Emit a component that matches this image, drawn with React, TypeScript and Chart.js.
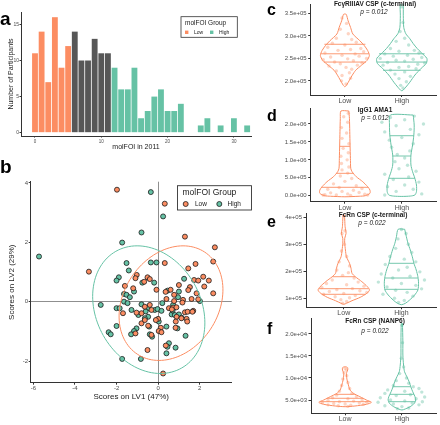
import React, { useEffect, useRef } from "react";
import { Chart, registerables } from "chart.js";

Chart.register(...registerables);

const FONT = '"Liberation Sans", Arial, Helvetica, sans-serif';
const ORANGE = "#FC8D62";
const TEAL = "#66C2A5";
const MID = "#575757";
const AXIS = "#333333";
const TICK = "#4D4D4D";
const INK = "#1A1A1A";
const ORANGE_PT = "rgba(252,141,98,0.38)";
const TEAL_PT = "rgba(102,194,165,0.42)";

// ---------- panel a : histogram ----------
const histBins = [0, 1, 2, 3, 4, 5, 6, 7, 8, 9, 10, 11, 12, 13, 14, 15, 16, 17, 18, 19, 20, 21, 22, 25, 26, 28, 30, 32];
const histCounts = [11, 14, 7, 16, 9, 12, 14, 10, 10, 13, 11, 11, 9, 6, 6, 9, 2, 3, 5, 6, 3, 3, 4, 1, 2, 1, 2, 1];
const histGroup = [
  "Low", "Low", "Low", "Low", "Low", "Low",
  "Mid", "Mid", "Mid", "Mid", "Mid", "Mid",
  "High", "High", "High", "High", "High", "High", "High", "High", "High", "High", "High",
  "High", "High", "High", "High", "High",
];
const groupColor: Record<string, string> = { Low: ORANGE, Mid: MID, High: TEAL };
const histXTicks = [0, 10, 20, 30];
const histYTicks = [0, 5, 10, 15];

// ---------- panel b : scores ----------
const lowScores = [
  [-1.98, 3.77], [0.32, 3.3], [1.29, 2.19], [2.73, 1.83], [2.65, 1.35], [-3.33, 1.01], [0.32, 1.3], [1.8, 1.27],
  [1.45, 1.12], [-1.03, 0.9], [-1.09, 0.79], [-0.51, 0.82], [-0.4, 0.76], [-0.67, 0.67], [-1.6, 0.53], [0.36, 0.33],
  [2.17, 0.84], [1.73, 0.73], [1.93, 0.71], [2.44, 0.71], [1.0, 0.56], [2.22, 0.51], [1.53, 0.49], [1.45, 0.39],
  [0.77, 0.23], [1.85, 0.28], [2.65, 0.28], [0.4, 0.09], [0.77, 0.02], [1.2, 0.06], [1.61, 0.09], [1.17, -0.03],
  [0.52, -0.22], [0.72, -0.2], [1.29, -0.36], [1.42, -0.34], [1.69, -0.31], [0.89, -0.51], [1.37, -0.58], [0.0, -0.58],
  [0.13, -0.88], [0.03, -0.99], [0.16, -1.03], [0.84, -0.88], [0.24, -2.42], [-1.69, -0.39], [-0.64, -0.17], [-0.32, -0.28],
  [-0.4, -0.11], [-0.8, -0.39], [-0.8, -0.73], [-0.48, -0.81], [-1.09, -1.07], [-0.51, -1.63], [0.88, -0.19], [1.12, -0.56],
  [1.4, -0.67], [0.85, -0.67], [0.66, -0.26], [1.93, 0.08], [-0.08, 0.4], [-1.04, -0.37], [-0.11, -0.62], [-0.32, -1.12],
  [0.37, -1.48], [0.6, 0.4], [1.65, -0.34], [-1.2, 0.45], [-0.64, -0.62],
];
const highScores = [
  [-0.35, 3.69], [0.24, 2.87], [-0.8, 2.33], [-1.73, 1.99], [-5.73, 1.52], [-1.52, 1.3], [-0.35, 1.32], [-0.08, 1.32],
  [-1.41, 1.05], [-1.89, 0.82], [-2.0, 0.71], [-0.19, 0.64], [-1.16, 0.34], [-1.64, 0.26], [-1.52, 0.23], [-1.36, 0.15],
  [1.25, 0.77], [0.45, 0.37], [1.0, 0.34], [-2.76, -0.11], [-1.64, 0.0], [-1.47, -0.05], [-2.0, -0.22], [-1.85, -0.22],
  [-1.28, -0.28], [-0.8, -0.09], [-0.48, -0.22], [-0.16, -0.28], [-0.48, -0.51], [-0.64, -0.56], [-0.43, -0.84], [-1.04, -0.9],
  [-1.16, -0.99], [-0.4, -1.1], [-0.29, -1.18], [-2.0, -0.82], [-2.38, -1.03], [-2.28, -1.1], [-1.73, -1.93], [-0.83, -1.93],
  [2.01, 0.02], [-0.03, -0.25], [0.16, -0.31], [0.65, -0.43], [0.8, -0.45], [1.0, -0.43], [1.13, -0.54], [0.03, -0.67],
  [0.4, -0.84], [0.93, -0.9], [1.32, -1.15], [0.52, -1.4], [0.45, -1.52], [0.84, -1.55], [0.4, -1.74], [-0.76, 0.64],
  [0.72, -0.11], [0.96, 0.15], [0.7, -0.3], [-0.6, -0.33], [-0.95, -0.45], [-1.3, -1.1], [0.2, -0.05],
];
// confidence ellipses: centre + two conjugate semi-axis vectors (data units)
const lowEllipse = { cx: 0.62, cy: -0.05, ax: 2.43, ay: 0, bx: 0.58, by: 1.93 };
const highEllipse = { cx: -0.45, cy: -0.27, ax: 2.64, ay: 0, bx: -0.56, by: 2.15 };
const lvXTicks = [-6, -4, -2, 0, 2];
const lvYTicks = [-2, 0, 2, 4];

// ---------- panels c-f : violins ([value, half-width]) ----------
const groups = ["Low", "High"];

const cTicks = [2.0e5, 2.5e5, 3.0e5, 3.5e5];
const cTickLabels = ["2.0e+05", "2.5e+05", "3.0e+05", "3.5e+05"];
const cLowProfile = [[3.49e5, 0], [3.48e5, 0.025], [3.337e5, 0.057], [3.19e5, 0.1], [3.044e5, 0.14], [2.897e5, 0.26], [2.787e5, 0.34], [2.676e5, 0.4], [2.566e5, 0.43], [2.456e5, 0.39], [2.346e5, 0.29], [2.236e5, 0.19], [2.126e5, 0.13], [2.015e5, 0.08], [1.905e5, 0.03], [1.868e5, 0]];
const cHighProfile = [[3.72e5, 0.026], [3.45e5, 0.026], [3.19e5, 0.034], [3.05e5, 0.07], [2.94e5, 0.14], [2.83e5, 0.2], [2.72e5, 0.27], [2.63e5, 0.34], [2.5e5, 0.44], [2.39e5, 0.43], [2.28e5, 0.34], [2.13e5, 0.23], [1.97e5, 0.14], [1.86e5, 0.07], [1.79e5, 0.02], [1.78e5, 0]];
const cLowQuant = [[2.815e5, 0.36], [2.603e5, 0.42], [2.419e5, 0.37]];
const cHighQuant = [[2.603e5, 0.4], [2.419e5, 0.44], [2.236e5, 0.33]];
const cLowPts = [[-0.05, 3.4e5], [0.03, 3.28e5], [-0.08, 3.15e5], [0.06, 3.05e5], [-0.15, 2.95e5], [0.12, 2.92e5], [0.2, 2.86e5], [-0.22, 2.84e5], [0.0, 2.8e5], [-0.3, 2.75e5], [0.28, 2.72e5], [0.1, 2.7e5], [-0.12, 2.68e5], [0.33, 2.65e5], [-0.35, 2.62e5], [0.18, 2.6e5], [-0.05, 2.57e5], [0.25, 2.55e5], [-0.25, 2.53e5], [0.38, 2.5e5], [0.05, 2.49e5], [-0.38, 2.47e5], [0.15, 2.45e5], [-0.18, 2.42e5], [0.3, 2.4e5], [-0.08, 2.38e5], [0.22, 2.35e5], [-0.28, 2.33e5], [0.02, 2.3e5], [0.12, 2.26e5], [-0.15, 2.22e5], [0.08, 2.18e5], [-0.05, 2.12e5], [0.1, 2.06e5], [-0.06, 2.0e5], [0.02, 1.93e5]];
const cHighPts = [[0.0, 3.65e5], [0.02, 3.3e5], [-0.03, 3.1e5], [0.05, 2.95e5], [-0.1, 2.88e5], [0.12, 2.8e5], [-0.2, 2.72e5], [0.22, 2.68e5], [-0.05, 2.66e5], [0.3, 2.62e5], [-0.3, 2.6e5], [0.1, 2.57e5], [-0.15, 2.55e5], [0.35, 2.52e5], [-0.38, 2.5e5], [0.2, 2.48e5], [-0.1, 2.46e5], [0.05, 2.44e5], [-0.25, 2.41e5], [0.4, 2.4e5], [0.28, 2.37e5], [-0.33, 2.35e5], [0.12, 2.32e5], [-0.05, 2.3e5], [0.25, 2.27e5], [-0.2, 2.24e5], [0.05, 2.2e5], [-0.12, 2.15e5], [0.15, 2.1e5], [-0.05, 2.05e5], [0.08, 1.98e5], [-0.02, 1.9e5], [0.02, 1.84e5]];

const dTicks = [0, 5e5, 1e6, 1.5e6, 2e6];
const dTickLabels = ["0.0e+00", "5.0e+05", "1.0e+06", "1.5e+06", "2.0e+06"];
const dLowProfile = [[2.362e6, 0.069], [2.158e6, 0.08], [1.785e6, 0.086], [1.414e6, 0.091], [1.043e6, 0.097], [7.64e5, 0.103], [6.69e5, 0.126], [5.3e5, 0.2], [3.9e5, 0.314], [2.51e5, 0.4], [1.59e5, 0.44], [6.7e4, 0.44], [0, 0.36], [-1.5e4, 0.25], [-3e4, 0]];
const dHighProfile = [[2.25e6, 0.2], [1.971e6, 0.217], [1.693e6, 0.211], [1.414e6, 0.189], [1.135e6, 0.16], [8.56e5, 0.16], [6.69e5, 0.189], [4.85e5, 0.229], [2.98e5, 0.257], [1.12e5, 0.257], [2e4, 0.229], [-1e4, 0.15], [-2e4, 0]];
const dLowQuant = [[1.377e6, 0.09], [6.24e5, 0.15], [2.34e5, 0.41]];
const dHighQuant = [[1.673e6, 0.21], [1.107e6, 0.16], [4.85e5, 0.229]];
const dLowPts = [[-0.35, 3e4], [-0.25, 8e4], [-0.15, 2e4], [-0.05, 1.2e5], [0.05, 5e4], [0.15, 1.5e5], [0.25, 9e4], [0.35, 4e4], [-0.3, 1.8e5], [0.3, 2.0e5], [-0.1, 2.3e5], [0.1, 1e4], [0.2, 2.8e5], [-0.2, 3.3e5], [0.0, 4.0e5], [0.12, 4.8e5], [-0.08, 5.5e5], [0.05, 6.3e5], [-0.05, 7.2e5], [0.07, 8.0e5], [-0.06, 9.0e5], [0.04, 1.0e6], [-0.07, 1.1e6], [0.06, 1.2e6], [-0.03, 1.32e6], [0.07, 1.45e6], [-0.05, 1.6e6], [0.03, 1.75e6], [-0.06, 1.9e6], [0.05, 2.05e6], [-0.02, 2.2e6], [0.06, 2.3e6], [-0.38, 1.5e4], [0.4, 2e4]];
const dHighPts = [[-0.3, 2e4], [0.35, 5e4], [-0.1, 1.2e5], [0.2, 1.8e5], [-0.25, 2.5e5], [0.05, 3.0e5], [0.3, 3.8e5], [-0.15, 4.5e5], [0.12, 5.2e5], [-0.3, 6.0e5], [0.25, 6.8e5], [-0.05, 7.5e5], [0.1, 8.5e5], [-0.12, 9.5e5], [0.05, 1.05e6], [-0.08, 1.15e6], [0.14, 1.25e6], [-0.18, 1.35e6], [0.2, 1.45e6], [-0.22, 1.55e6], [0.0, 1.62e6], [0.3, 1.7e6], [-0.3, 1.78e6], [0.15, 1.85e6], [-0.1, 1.95e6], [0.38, 2.0e6], [-0.35, 2.05e6], [0.05, 2.12e6], [-0.2, 2.18e6], [0.22, 2.22e6]];

const eTicks = [1e5, 2e5, 3e5, 4e5];
const eTickLabels = ["1e+05", "2e+05", "3e+05", "4e+05"];
const eLowProfile = [[4.1e5, 0], [4.085e5, 0.011], [3.9e5, 0.017], [3.652e5, 0.023], [3.408e5, 0.04], [3.222e5, 0.017], [3.037e5, 0.017], [2.789e5, 0.029], [2.541e5, 0.046], [2.296e5, 0.1], [2.111e5, 0.126], [1.926e5, 0.143], [1.8e5, 0.2], [1.615e5, 0.314], [1.43e5, 0.41], [1.307e5, 0.446], [1.185e5, 0.4], [1.037e5, 0.286], [9.11e4, 0.143], [8.15e4, 0.046], [7.78e4, 0]];
const eHighProfile = [[3.556e5, 0.057], [3.283e5, 0.086], [3.037e5, 0.114], [2.789e5, 0.154], [2.541e5, 0.189], [2.296e5, 0.217], [2.048e5, 0.257], [1.8e5, 0.286], [1.556e5, 0.297], [1.307e5, 0.286], [1.122e5, 0.229], [9.37e4, 0.143], [8.15e4, 0.069], [7.63e4, 0]];
const eLowQuant = [[1.8e5, 0.2], [1.356e5, 0.43], [1.148e5, 0.38]];
const eHighQuant = [[2.296e5, 0.217], [1.752e5, 0.286], [1.333e5, 0.286]];
const eLowPts = [[0.0, 4.05e5], [0.02, 3.5e5], [-0.03, 3.4e5], [0.01, 3.0e5], [-0.04, 2.75e5], [0.05, 2.55e5], [-0.08, 2.35e5], [0.1, 2.2e5], [-0.12, 2.05e5], [0.08, 1.95e5], [-0.02, 1.85e5], [0.18, 1.75e5], [-0.2, 1.68e5], [0.25, 1.6e5], [-0.3, 1.55e5], [0.05, 1.5e5], [0.35, 1.45e5], [-0.38, 1.4e5], [0.15, 1.36e5], [-0.12, 1.32e5], [0.28, 1.28e5], [-0.25, 1.25e5], [0.4, 1.22e5], [0.0, 1.18e5], [-0.35, 1.15e5], [0.2, 1.1e5], [-0.15, 1.06e5], [0.1, 1.02e5], [-0.05, 9.5e4], [0.05, 8.8e4], [-0.02, 8.2e4]];
const eHighPts = [[0.0, 3.55e5], [0.08, 3.4e5], [-0.06, 3.2e5], [0.12, 3.0e5], [-0.1, 2.85e5], [0.18, 2.7e5], [-0.2, 2.55e5], [0.05, 2.45e5], [0.25, 2.35e5], [-0.28, 2.25e5], [0.1, 2.15e5], [-0.05, 2.05e5], [0.32, 1.98e5], [-0.35, 1.9e5], [0.15, 1.82e5], [-0.15, 1.75e5], [0.4, 1.68e5], [-0.4, 1.6e5], [0.0, 1.55e5], [0.25, 1.48e5], [-0.25, 1.42e5], [0.35, 1.35e5], [-0.1, 1.3e5], [0.1, 1.22e5], [-0.32, 1.15e5], [0.2, 1.08e5], [-0.12, 1.0e5], [0.05, 9.2e4], [-0.05, 8.5e4]];

const fTicks = [5e3, 1e4, 1.5e4, 2e4];
const fTickLabels = ["5.0e+03", "1.0e+04", "1.5e+04", "2.0e+04"];
const fLowProfile = [[1.255e4, 0], [1.25e4, 0.025], [1.233e4, 0.046], [1.181e4, 0.046], [1.129e4, 0.029], [1.068e4, 0.023], [9.54e3, 0.035], [8.41e3, 0.058], [7.27e3, 0.087], [6.52e3, 0.145], [5.76e3, 0.26], [5.0e3, 0.376], [4.47e3, 0.463], [4.02e3, 0.376], [3.64e3, 0.174], [3.48e3, 0]];
const fHighProfile = [[2.24e4, 0.01], [1.82e4, 0.017], [1.522e4, 0.017], [1.295e4, 0.029], [1.142e4, 0.046], [1.029e4, 0.087], [9.15e3, 0.127], [8.02e3, 0.156], [6.89e3, 0.19], [5.76e3, 0.23], [5.0e3, 0.243], [4.25e3, 0.22], [3.48e3, 0.145], [2.96e3, 0.058], [2.73e3, 0]];
const fLowQuant = [[6.29e3, 0.17], [5.39e3, 0.32], [4.62e3, 0.44]];
const fHighQuant = [[8.02e3, 0.156], [6.29e3, 0.21], [4.62e3, 0.235]];
const fLowPts = [[0.0, 1.22e4], [0.02, 1.18e4], [-0.02, 1.12e4], [0.03, 1.05e4], [-0.04, 9.8e3], [0.05, 9.0e3], [-0.06, 8.3e3], [0.08, 7.6e3], [-0.1, 7.0e3], [0.12, 6.5e3], [-0.15, 6.1e3], [0.2, 5.8e3], [-0.22, 5.5e3], [0.05, 5.3e3], [0.3, 5.0e3], [-0.3, 4.9e3], [0.15, 4.75e3], [-0.1, 4.6e3], [0.38, 4.5e3], [-0.4, 4.4e3], [0.25, 4.3e3], [-0.2, 4.2e3], [0.0, 4.1e3], [0.32, 4.0e3], [-0.3, 3.9e3], [0.1, 3.8e3], [-0.12, 3.7e3], [0.05, 3.55e3]];
const fHighPts = [[0.0, 2.2e4], [0.01, 1.8e4], [-0.01, 1.45e4], [0.03, 1.25e4], [-0.04, 1.1e4], [0.08, 1.0e4], [-0.1, 9.4e3], [0.12, 8.8e3], [-0.15, 8.3e3], [0.2, 8.0e3], [0.3, 7.6e3], [-0.25, 7.3e3], [0.05, 7.0e3], [0.35, 6.8e3], [-0.3, 6.5e3], [0.15, 6.2e3], [-0.1, 6.0e3], [0.4, 5.7e3], [-0.38, 5.5e3], [0.25, 5.3e3], [-0.2, 5.0e3], [0.05, 4.8e3], [0.36, 4.6e3], [-0.42, 4.5e3], [0.18, 4.3e3], [-0.15, 4.1e3], [0.3, 3.9e3], [-0.3, 3.7e3], [0.0, 3.5e3], [0.12, 3.2e3], [-0.08, 3.0e3]];

// ---------- helpers ----------
type Rect = { left: number; top: number; width: number; height: number };
type Area = { left: number; top: number; right: number; bottom: number };

function frame(r: Rect, a: Area) {
  return {
    padding: { left: 0, bottom: 0, top: a.top - r.top, right: r.left + r.width - a.right },
    yW: a.left - r.left,
    xH: r.top + r.height - a.bottom,
  };
}

function linAxis(o: any) {
  return {
    type: "linear",
    position: o.position,
    min: o.min,
    max: o.max,
    offset: false,
    afterBuildTicks: (s: any) => {
      s.ticks = o.ticks.map((v: number) => ({ value: v }));
    },
    afterFit: (s: any) => {
      if (o.fitW !== undefined) s.width = o.fitW;
      if (o.fitH !== undefined) s.height = o.fitH;
      s.paddingTop = 0;
      s.paddingBottom = 0;
      s.paddingLeft = 0;
      s.paddingRight = 0;
    },
    border: { display: true, color: AXIS, width: 1 },
    grid: {
      display: true,
      drawOnChartArea: !!o.zero,
      drawTicks: true,
      tickLength: o.tickLength ?? 2.5,
      tickWidth: 1,
      tickColor: AXIS,
      lineWidth: 1,
      offset: false,
      color: o.zero ? (c: any) => (c.tick && c.tick.value === 0 ? "#8F8F8F" : "rgba(0,0,0,0)") : AXIS,
    },
    ticks: {
      color: TICK,
      font: { family: FONT, size: o.size },
      padding: o.tickPad ?? 1,
      autoSkip: false,
      maxRotation: 0,
      minRotation: 0,
      callback: (_v: any, i: number) => o.labels[i],
    },
    title: o.title
      ? { display: true, text: o.title.text, color: INK, font: { family: FONT, size: o.title.size }, padding: o.title.pad }
      : { display: false },
  };
}

function txt(ctx: CanvasRenderingContext2D, s: string, x: number, y: number, size: number, o: any = {}) {
  ctx.save();
  ctx.font = `${o.style ?? "normal"} ${o.weight ?? "normal"} ${size}px ${FONT}`;
  ctx.fillStyle = o.color ?? INK;
  ctx.textAlign = o.align ?? "left";
  ctx.textBaseline = o.baseline ?? "middle";
  ctx.fillText(s, x, y);
  ctx.restore();
}

function baseOptions(padding: any) {
  return {
    responsive: false,
    maintainAspectRatio: false,
    animation: false,
    devicePixelRatio: 1,
    events: [],
    layout: { padding },
    plugins: { legend: { display: false }, tooltip: { enabled: false } },
  };
}

function ChartCanvas({ rect, config }: { rect: Rect; config: () => any }) {
  const ref = useRef<HTMLCanvasElement | null>(null);
  useEffect(() => {
    if (!ref.current) return;
    const ch = new Chart(ref.current, config());
    return () => ch.destroy();
  }, []);
  return (
    <canvas
      ref={ref}
      width={rect.width}
      height={rect.height}
      style={{ position: "absolute", left: rect.left, top: rect.top, width: rect.width + "px", height: rect.height + "px" }}
    />
  );
}

// ---------- panel a ----------
const RECT_A: Rect = { left: 0, top: 0, width: 252, height: 156 };
const AREA_A: Area = { left: 21, top: 12, right: 251, bottom: 136 };

function histConfig() {
  const f = frame(RECT_A, AREA_A);
  return {
    type: "bar",
    data: {
      datasets: [
        {
          data: histBins.map((b, i) => ({ x: b, y: histCounts[i] })),
          backgroundColor: histGroup.map((g) => groupColor[g]),
          borderWidth: 0,
          barPercentage: 0.88,
          categoryPercentage: 1,
        },
      ],
    },
    options: {
      ...baseOptions(f.padding),
      scales: {
        x: linAxis({ position: "bottom", min: -2.11, max: 32.58, ticks: histXTicks, labels: histXTicks.map(String), size: 4.5, fitH: f.xH, tickLength: 1.5, tickPad: 1.5, title: { text: "molFOI in 2011", size: 7, pad: { top: 0, bottom: 4.3 } } }),
        y: linAxis({ position: "left", min: -0.46, max: 16.72, ticks: histYTicks, labels: histYTicks.map(String), size: 5, fitW: f.yW, tickLength: 1.5, tickPad: 0.5, title: { text: "Number of Participants", size: 7, pad: { top: 7.3, bottom: 0 } } }),
      },
    },
    plugins: [
      {
        id: "decoA",
        afterDraw(chart: any) {
          const ctx = chart.ctx as CanvasRenderingContext2D;
          txt(ctx, "a", 0, 25, 19, { weight: "bold", baseline: "alphabetic", color: "#000" });
          ctx.save();
          ctx.strokeStyle = "#333";
          ctx.lineWidth = 0.8;
          ctx.strokeRect(181, 16.7, 56.3, 20.6);
          ctx.restore();
          txt(ctx, "molFOI Group", 185, 22.9, 6.5);
          ctx.fillStyle = ORANGE;
          ctx.fillRect(185, 30.6, 3.4, 3.4);
          ctx.fillStyle = TEAL;
          ctx.fillRect(210, 30.6, 3.4, 3.4);
          txt(ctx, "Low", 194, 32.4, 5);
          txt(ctx, "High", 219, 32.4, 5);
        },
      },
    ],
  };
}

// ---------- panel b ----------
const RECT_B: Rect = { left: 0, top: 156, width: 252, height: 269 };
const AREA_B: Area = { left: 30.7, top: 181.7, right: 231.7, bottom: 382.7 };

function scoreConfig() {
  const f = frame(RECT_B, AREA_B);
  const pt = (arr: number[][]) => arr.map(([x, y]) => ({ x, y }));
  return {
    type: "scatter",
    data: {
      datasets: [
        { data: pt(lowScores), backgroundColor: ORANGE, borderColor: "#1A1A1A", borderWidth: 0.8, pointRadius: 2.5 },
        { data: pt(highScores), backgroundColor: TEAL, borderColor: "#1A1A1A", borderWidth: 0.8, pointRadius: 2.5 },
      ],
    },
    options: {
      ...baseOptions(f.padding),
      scales: {
        x: linAxis({ position: "bottom", min: -6.13, max: 3.54, ticks: lvXTicks, labels: lvXTicks.map(String), size: 6, fitH: f.xH, tickLength: 2, tickPad: 0, zero: true, title: { text: "Scores on LV1 (47%)", size: 8, pad: { top: 0, bottom: 23.2 } } }),
        y: linAxis({ position: "left", min: -2.73, max: 4.04, ticks: lvYTicks, labels: lvYTicks.map(String), size: 6, fitW: f.yW, tickLength: 2, tickPad: 0.7, zero: true, title: { text: "Scores on LV2 (29%)", size: 8, pad: { top: 7.2, bottom: 0 } } }),
      },
    },
    plugins: [
      {
        id: "decoB",
        afterDatasetsDraw(chart: any) {
          const ctx = chart.ctx as CanvasRenderingContext2D;
          const xs = chart.scales.x;
          const ys = chart.scales.y;
          const a = chart.chartArea;
          const drawEllipse = (e: any, color: string) => {
            ctx.save();
            ctx.beginPath();
            ctx.rect(a.left, a.top, a.right - a.left, a.bottom - a.top);
            ctx.clip();
            ctx.beginPath();
            const N = 120;
            for (let i = 0; i <= N; i++) {
              const t = (2 * Math.PI * i) / N;
              const x = e.cx + e.ax * Math.cos(t) + e.bx * Math.sin(t);
              const y = e.cy + e.ay * Math.cos(t) + e.by * Math.sin(t);
              const px = xs.getPixelForValue(x);
              const py = ys.getPixelForValue(y);
              if (i === 0) ctx.moveTo(px, py);
              else ctx.lineTo(px, py);
            }
            ctx.strokeStyle = color;
            ctx.lineWidth = 1;
            ctx.stroke();
            ctx.restore();
          };
          drawEllipse(lowEllipse, ORANGE);
          drawEllipse(highEllipse, TEAL);
        },
        afterDraw(chart: any) {
          const ctx = chart.ctx as CanvasRenderingContext2D;
          const oy = RECT_B.top;
          txt(ctx, "b", 0, 173 - oy, 19, { weight: "bold", baseline: "alphabetic", color: "#000" });
          ctx.save();
          ctx.fillStyle = "#fff";
          ctx.fillRect(177.5, 185.7 - oy, 74, 24.3);
          ctx.strokeStyle = "#333";
          ctx.lineWidth = 0.9;
          ctx.strokeRect(177.5, 185.7 - oy, 74, 24.3);
          ctx.restore();
          txt(ctx, "molFOI Group", 182.5, 192.5 - oy, 8.5);
          const dot = (x: number, c: string) => {
            ctx.save();
            ctx.beginPath();
            ctx.arc(x, 204 - oy, 2.5, 0, Math.PI * 2);
            ctx.fillStyle = c;
            ctx.fill();
            ctx.strokeStyle = "#1A1A1A";
            ctx.lineWidth = 0.8;
            ctx.stroke();
            ctx.restore();
          };
          dot(185.7, ORANGE);
          dot(219.3, TEAL);
          txt(ctx, "Low", 195, 204.3 - oy, 6.5);
          txt(ctx, "High", 227.5, 204.3 - oy, 6.5);
        },
      },
    ],
  };
}

// ---------- violins ----------
function outline(profile: number[][], c: number) {
  const right = profile.map(([v, w]) => ({ x: c + w, y: v }));
  const left = profile
    .filter(([, w]) => w > 0)
    .reverse()
    .map(([v, w]) => ({ x: c - w, y: v }));
  return [...right, ...left, right[0]];
}
function quantSegs(q: number[][], c: number) {
  const out: any[] = [];
  q.forEach(([v, w]) => {
    out.push({ x: c - w, y: v }, { x: c + w, y: v }, { x: c, y: null });
  });
  return out;
}

type Violin = {
  rect: Rect;
  area: Area;
  xmin: number;
  ymin: number;
  ymax: number;
  ticks: number[];
  tickLabels: string[];
  low: number[][];
  high: number[][];
  lowQ: number[][];
  highQ: number[][];
  lowPts: number[][];
  highPts: number[][];
  letter: string;
  letterBase: number;
  title: string;
  titleX: number;
  titleY: number;
  p: string;
  pX: number;
  pY: number;
};

const violins: Violin[] = [
  {
    rect: { left: 255, top: 0, width: 185, height: 106 },
    area: { left: 310.7, top: 3, right: 437.7, bottom: 95 },
    xmin: 0.4, ymin: 1.685e5, ymax: 3.712e5, ticks: cTicks, tickLabels: cTickLabels,
    low: cLowProfile, high: cHighProfile, lowQ: cLowQuant, highQ: cHighQuant, lowPts: cLowPts, highPts: cHighPts,
    letter: "c", letterBase: 15, title: "FcγRIIIAV CSP (c-terminal)", titleX: 375, titleY: 4.5, p: "p = 0.012", pX: 374, pY: 12,
  },
  {
    rect: { left: 255, top: 104, width: 185, height: 108 },
    area: { left: 310.7, top: 108, right: 437.7, bottom: 201.7 },
    xmin: 0.4, ymin: -1.673e5, ymax: 2.446e6, ticks: dTicks, tickLabels: dTickLabels,
    low: dLowProfile, high: dHighProfile, lowQ: dLowQuant, highQ: dHighQuant, lowPts: dLowPts, highPts: dHighPts,
    letter: "d", letterBase: 121, title: "IgG1 AMA1", titleX: 375, titleY: 110.5, p: "p = 0.012", pX: 375, pY: 118,
  },
  {
    rect: { left: 255, top: 209, width: 185, height: 109 },
    area: { left: 306, top: 213, right: 437.7, bottom: 307.3 },
    xmin: 0.345, ymin: 6.67e4, ymax: 4.159e5, ticks: eTicks, tickLabels: eTickLabels,
    low: eLowProfile, high: eHighProfile, lowQ: eLowQuant, highQ: eHighQuant, lowPts: eLowPts, highPts: eHighPts,
    letter: "e", letterBase: 226.7, title: "FcRn CSP (c-terminal)", titleX: 373, titleY: 215.5, p: "p = 0.022", pX: 372, pY: 223.5,
  },
  {
    rect: { left: 255, top: 314, width: 185, height: 111 },
    area: { left: 311, top: 318, right: 437.7, bottom: 413.3 },
    xmin: 0.4, ymin: 1.98e3, ymax: 2.363e4, ticks: fTicks, tickLabels: fTickLabels,
    low: fLowProfile, high: fHighProfile, lowQ: fLowQuant, highQ: fHighQuant, lowPts: fLowPts, highPts: fHighPts,
    letter: "f", letterBase: 334.3, title: "FcRn CSP (NANP6)", titleX: 375, titleY: 321, p: "p = 0.022", pX: 375, pY: 331.5,
  },
];

function violinConfig(v: Violin) {
  const f = frame(v.rect, v.area);
  const pts = (arr: number[][], c: number) => arr.map(([dx, y]) => ({ x: c + dx, y }));
  return {
    type: "scatter",
    data: {
      datasets: [
        { data: outline(v.low, 1), showLine: true, borderColor: ORANGE, borderWidth: 1, pointRadius: 0, tension: 0.25, fill: false, order: 0 },
        { data: outline(v.high, 2), showLine: true, borderColor: TEAL, borderWidth: 1, pointRadius: 0, tension: 0.25, fill: false, order: 0 },
        { data: quantSegs(v.lowQ, 1), showLine: true, spanGaps: false, borderColor: ORANGE, borderWidth: 0.9, pointRadius: 0, tension: 0, order: 0 },
        { data: quantSegs(v.highQ, 2), showLine: true, spanGaps: false, borderColor: TEAL, borderWidth: 0.9, pointRadius: 0, tension: 0, order: 0 },
        { data: pts(v.lowPts, 1), pointRadius: 1.7, backgroundColor: ORANGE_PT, borderWidth: 0, order: 1 },
        { data: pts(v.highPts, 2), pointRadius: 1.7, backgroundColor: TEAL_PT, borderWidth: 0, order: 1 },
      ],
    },
    options: {
      ...baseOptions(f.padding),
      scales: {
        x: linAxis({ position: "bottom", min: v.xmin, max: 2.6, ticks: [1, 2], labels: groups, size: 7, fitH: f.xH, tickLength: 2, tickPad: 0 }),
        y: linAxis({ position: "left", min: v.ymin, max: v.ymax, ticks: v.ticks, labels: v.tickLabels, size: 6, fitW: f.yW, tickLength: 2.5, tickPad: 1.5 }),
      },
    },
    plugins: [
      {
        id: "decoV",
        afterDraw(chart: any) {
          const ctx = chart.ctx as CanvasRenderingContext2D;
          const ox = v.rect.left;
          const oy = v.rect.top;
          txt(ctx, v.letter, 267 - ox, v.letterBase - oy, 16, { weight: "bold", baseline: "alphabetic", color: "#000" });
          txt(ctx, v.title, v.titleX - ox, v.titleY - oy, 6.5, { weight: "bold", align: "center" });
          txt(ctx, v.p, v.pX - ox, v.pY - oy, 6.5, { style: "italic", align: "center" });
        },
      },
    ],
  };
}

export default function App() {
  return (
    <div style={{ position: "fixed", left: 0, top: 0, width: 440, height: 425, background: "#fff", overflow: "hidden" }}>
      <ChartCanvas rect={RECT_A} config={histConfig} />
      <ChartCanvas rect={RECT_B} config={scoreConfig} />
      {violins.map((v, i) => (
        <ChartCanvas key={i} rect={v.rect} config={() => violinConfig(v)} />
      ))}
    </div>
  );
}
